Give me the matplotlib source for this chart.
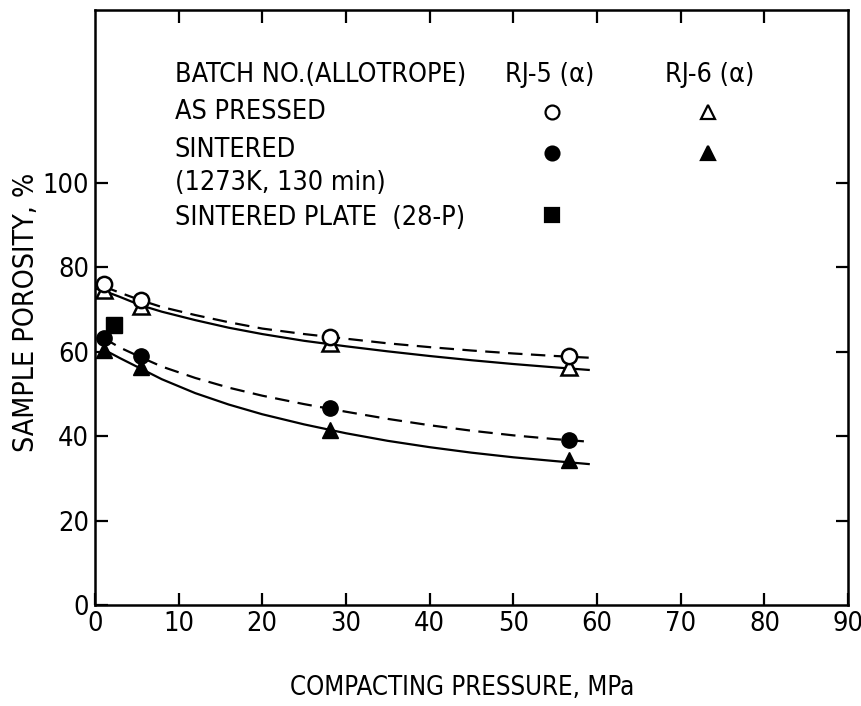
import matplotlib
matplotlib.use("Agg")
import matplotlib.pyplot as plt

# Measured points
x_pts = [1.1, 5.5, 28.1, 56.7]
rj5_pressed = [76.0, 72.3, 63.5, 59.0]
rj6_pressed = [74.6, 70.9, 62.0, 56.4]
rj5_sintered = [63.3, 59.0, 46.7, 39.0]
rj6_sintered = [60.4, 56.4, 41.5, 34.4]
plate_x = [2.3]
plate_y = [66.3]

# Fitted curves
curve_x = [1, 3, 5.5, 8, 12, 16, 20, 25, 30, 35, 40, 45, 50, 55, 59]
curve_rj5_pressed = [75.5, 74.0, 72.2, 70.6, 68.7, 67.0, 65.5, 64.2, 63.1, 62.0, 61.1, 60.3, 59.6, 59.0, 58.6]
curve_rj6_x = [0, 1, 3, 5.5, 8, 12, 16, 20, 25, 30, 35, 40, 45, 50, 55, 59]
curve_rj6_pressed = [75.0, 74.5, 73.0, 71.0, 69.5, 67.5, 65.7, 64.2, 62.6, 61.3, 60.1, 59.0, 58.0, 57.1, 56.3, 55.7]
curve_rj5_sintered = [63.3, 61.0, 58.7, 56.5, 53.8, 51.5, 49.6, 47.6, 45.8, 44.1, 42.6, 41.3, 40.2, 39.3, 38.7]
curve_rj6_sintered = [60.6, 58.5, 56.0, 53.5, 50.2, 47.5, 45.2, 42.8, 40.7, 38.9, 37.4, 36.1, 35.0, 34.1, 33.4]

x_ticks = [0, 10, 20, 30, 40, 50, 60, 70, 80, 90]
y_ticks = [0, 20, 40, 60, 80, 100]

FONT = dict(family="DejaVu Sans", fontstretch="condensed")

fig = plt.figure(figsize=(8.62, 7.06), dpi=100)
ax = fig.add_axes([0.110, 0.143, 0.874, 0.843])

lw = 1.6
dash = (0, (6.5, 3.8))
ax.plot(curve_x, curve_rj5_pressed, color="black", lw=lw, ls=dash)
ax.plot(curve_rj6_x, curve_rj6_pressed, color="black", lw=lw, ls="-")
ax.plot(curve_x, curve_rj5_sintered, color="black", lw=lw, ls=dash)
ax.plot(curve_x, curve_rj6_sintered, color="black", lw=lw, ls="-")

ms = 11
ax.plot(x_pts, rj6_pressed, ls="none", marker="^", ms=ms, mfc="white", mec="black", mew=1.8, zorder=3)
ax.plot(x_pts, rj5_pressed, ls="none", marker="o", ms=ms, mfc="white", mec="black", mew=1.8, zorder=4)
ax.plot(plate_x, plate_y, ls="none", marker="s", ms=ms, color="black", zorder=3)
ax.plot(x_pts, rj6_sintered, ls="none", marker="^", ms=ms, color="black", zorder=3)
ax.plot(x_pts, rj5_sintered, ls="none", marker="o", ms=ms, color="black", zorder=4)

ax.set_xlim(0, 90)
ax.set_ylim(0, 141)
ax.set_xticks(x_ticks)
ax.set_yticks(y_ticks)
ax.set_xticklabels([str(v) for v in x_ticks], fontsize=19.5, **FONT)
ax.set_yticklabels([str(v) for v in y_ticks], fontsize=19.5, **FONT)
ax.tick_params(direction="in", length=9, width=1.6, pad=4, top=False, right=False)
for s in ax.spines.values():
    s.set_linewidth(1.8)

sec_top = ax.secondary_xaxis("top")
sec_top.set_xticks(x_ticks[1:-1])
sec_top.set_xticklabels([])
sec_top.tick_params(direction="in", length=9, width=1.6)
sec_r = ax.secondary_yaxis("right")
sec_r.set_yticks(y_ticks[1:])
sec_r.set_yticklabels([])
sec_r.tick_params(direction="in", length=9, width=1.6)

fig.text(0.030, 1 - 312 / 706, "SAMPLE POROSITY, %", rotation=90, ha="center", va="center", fontsize=20.5, **FONT)
fig.text(462 / 862, 1 - 688 / 706, "COMPACTING PRESSURE, MPa", ha="center", va="center", fontsize=18.5, **FONT)

def ax_frac(px, py):
    return ((px - 95) / (848 - 95), (605 - py) / (605 - 10))

lab_fs = 19.4
rows = [("BATCH NO.(ALLOTROPE)", 75), ("AS PRESSED", 112), ("SINTERED", 150),
        ("(1273K, 130 min)", 183), ("SINTERED PLATE  (28-P)", 218)]
for txt, py in rows:
    fx, fy = ax_frac(175, py)
    ax.text(fx, fy, txt, transform=ax.transAxes, ha="left", va="center", fontsize=lab_fs, **FONT)
for txt, px in [("RJ-5 (α)", 550), ("RJ-6 (α)", 710)]:
    fx, fy = ax_frac(px, 75)
    ax.text(fx, fy, txt, transform=ax.transAxes, ha="center", va="center", fontsize=lab_fs, **FONT)

lms = 10
for mk, px, py, filled in [("o", 552, 112, False), ("^", 708, 112, False),
                           ("o", 552, 153, True), ("^", 708, 153, True),
                           ("s", 552, 215, True)]:
    fx, fy = ax_frac(px, py)
    ax.plot([fx], [fy], transform=ax.transAxes, marker=mk, ms=lms,
            mfc="black" if filled else "white", mec="black", mew=1.6, ls="none")

fig.savefig("out.png", dpi=100)
